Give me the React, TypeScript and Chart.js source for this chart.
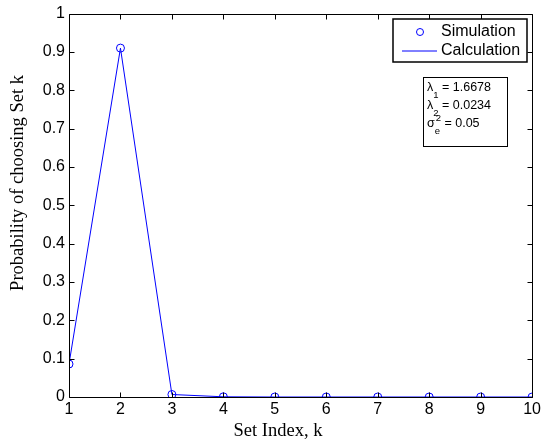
import React, { useEffect, useRef } from "react";
import { Chart, registerables } from "chart.js";

Chart.register(...registerables);

const setIndex = [1, 2, 3, 4, 5, 6, 7, 8, 9, 10];
const simulation = [0.086, 0.910, 0.0065, 0.0005, 0, 0, 0, 0, 0, 0];
const calculation = [0.086, 0.910, 0.0065, 0.0005, 0, 0, 0, 0, 0, 0];
const yTicks = [0, 0.1, 0.2, 0.3, 0.4, 0.5, 0.6, 0.7, 0.8, 0.9, 1];
const legendLabels = ["Simulation", "Calculation"];
const xTitle = "Set Index, k";
const yTitle = "Probability of choosing Set k";
const annotation = [
  { base: "λ", sub: "1", sup: "", rest: " = 1.6678" },
  { base: "λ", sub: "2", sup: "", rest: " = 0.0234" },
  { base: "σ", sub: "e", sup: "2", rest: " = 0.05" },
];

const BLUE = "rgb(0,0,255)";
const SANS = "'Liberation Sans', Arial, Helvetica, sans-serif";
const SERIF = "'Liberation Serif', 'Times New Roman', serif";

const framePlugin = {
  id: "frame",
  afterDraw(chart: any) {
    const { ctx, chartArea, scales } = chart;
    const { left, right, top, bottom } = chartArea;
    const x = scales.x;
    const y = scales.y;
    ctx.save();
    ctx.strokeStyle = "#000";
    ctx.lineWidth = 1;
    const L = Math.round(left) + 0.5;
    const R = Math.round(right) + 0.5;
    const T = Math.round(top) + 0.5;
    const B = Math.round(bottom) + 0.5;
    ctx.beginPath();
    ctx.rect(L, T, R - L, B - T);
    ctx.stroke();
    const tl = 5;
    ctx.beginPath();
    yTicks.forEach((v) => {
      const py = Math.round(y.getPixelForValue(v)) + 0.5;
      ctx.moveTo(L, py);
      ctx.lineTo(L + tl, py);
      ctx.moveTo(R, py);
      ctx.lineTo(R - tl, py);
    });
    setIndex.forEach((v) => {
      const px = Math.round(x.getPixelForValue(v)) + 0.5;
      ctx.moveTo(px, B);
      ctx.lineTo(px, B - tl);
      ctx.moveTo(px, T);
      ctx.lineTo(px, T + tl);
    });
    ctx.stroke();

    // Axis titles
    ctx.fillStyle = "#000";
    ctx.font = `18.5px ${SERIF}`;
    ctx.textAlign = "center";
    ctx.textBaseline = "middle";
    ctx.fillText(xTitle, 278, 431);
    ctx.save();
    ctx.translate(18, 183);
    ctx.rotate(-Math.PI / 2);
    ctx.fillText(yTitle, 0, 0);
    ctx.restore();

    // Legend
    const lx = 393, ly = 19, lw = 134, lh = 43;
    ctx.fillStyle = "#fff";
    ctx.fillRect(lx, ly, lw, lh);
    ctx.lineWidth = 1.5;
    ctx.strokeStyle = "#000";
    ctx.strokeRect(lx, ly, lw, lh);
    ctx.strokeStyle = BLUE;
    ctx.lineWidth = 1;
    ctx.beginPath();
    ctx.arc(420, 32, 3.5, 0, Math.PI * 2);
    ctx.stroke();
    ctx.beginPath();
    ctx.moveTo(402, 51);
    ctx.lineTo(437, 51);
    ctx.stroke();
    ctx.fillStyle = "#000";
    ctx.font = `16px ${SANS}`;
    ctx.textBaseline = "middle";
    ctx.textAlign = "left";
    ctx.fillText(legendLabels[0], 441, 32);
    ctx.fillText(legendLabels[1], 441, 51);

    // Annotation box
    const ax = 423, ay = 77, aw = 84, ah = 69;
    ctx.fillStyle = "#fff";
    ctx.fillRect(ax, ay, aw, ah);
    ctx.strokeStyle = "#000";
    ctx.lineWidth = 1;
    ctx.strokeRect(ax + 0.5, ay + 0.5, aw, ah);
    ctx.fillStyle = "#000";
    annotation.forEach((a, i) => {
      const by = 88 + i * 18;
      let cx = 427;
      ctx.font = `12.5px ${SANS}`;
      ctx.fillText(a.base, cx, by);
      cx += ctx.measureText(a.base).width;
      ctx.font = `9.5px ${SANS}`;
      let w = 0;
      if (a.sub) {
        ctx.fillText(a.sub, cx, by + 7);
        w = ctx.measureText(a.sub).width;
      }
      if (a.sup) {
        ctx.fillText(a.sup, cx + 1, by - 6);
        w = Math.max(w, ctx.measureText(a.sup).width + 1);
      }
      cx += w;
      ctx.font = `12.5px ${SANS}`;
      ctx.fillText(a.rest, cx, by);
    });
    ctx.restore();
  },
};

export default function App() {
  const ref = useRef<HTMLCanvasElement>(null);
  useEffect(() => {
    document.body.style.margin = "0";
    const canvas = ref.current!;
    const chart = new Chart(canvas, {
      type: "line",
      data: {
        datasets: [
          {
            label: legendLabels[0],
            data: setIndex.map((k, i) => ({ x: k, y: simulation[i] })),
            showLine: false,
            pointStyle: "circle",
            pointRadius: 4,
            pointBorderColor: BLUE,
            pointBackgroundColor: "rgba(0,0,0,0)",
            pointBorderWidth: 1,
            borderColor: BLUE,
          },
          {
            label: legendLabels[1],
            data: setIndex.map((k, i) => ({ x: k, y: calculation[i] })),
            borderColor: BLUE,
            borderWidth: 1,
            pointRadius: 0,
            tension: 0,
            fill: false,
          },
        ],
      },
      options: {
        responsive: false,
        animation: false,
        layout: { padding: { top: 13, right: 11, left: 0, bottom: 0 } },
        plugins: { legend: { display: false }, tooltip: { enabled: false } },
        scales: {
          x: {
            type: "linear",
            min: 1,
            max: 10,
            afterFit: (s: any) => {
              s.height = 44;
            },
            afterBuildTicks: (s: any) => {
              s.ticks = setIndex.map((v) => ({ value: v }));
            },
            grid: { display: false, drawTicks: false },
            border: { display: false },
            ticks: {
              color: "#000",
              padding: 3,
              font: { family: SANS, size: 16 },
              callback: (v: any) => String(v),
            },
          },
          y: {
            type: "linear",
            min: 0,
            max: 1,
            afterFit: (s: any) => {
              s.width = 69;
            },
            afterBuildTicks: (s: any) => {
              s.ticks = yTicks.map((v) => ({ value: v }));
            },
            grid: { display: false, drawTicks: false },
            border: { display: false },
            ticks: {
              color: "#000",
              padding: 4,
              font: { family: SANS, size: 16 },
              callback: (v: any) => String(Math.round(v * 10) / 10),
            },
          },
        },
      },
      plugins: [framePlugin],
    });
    return () => chart.destroy();
  }, []);
  return <canvas ref={ref} width={544} height={441} style={{ display: "block" }} />;
}
